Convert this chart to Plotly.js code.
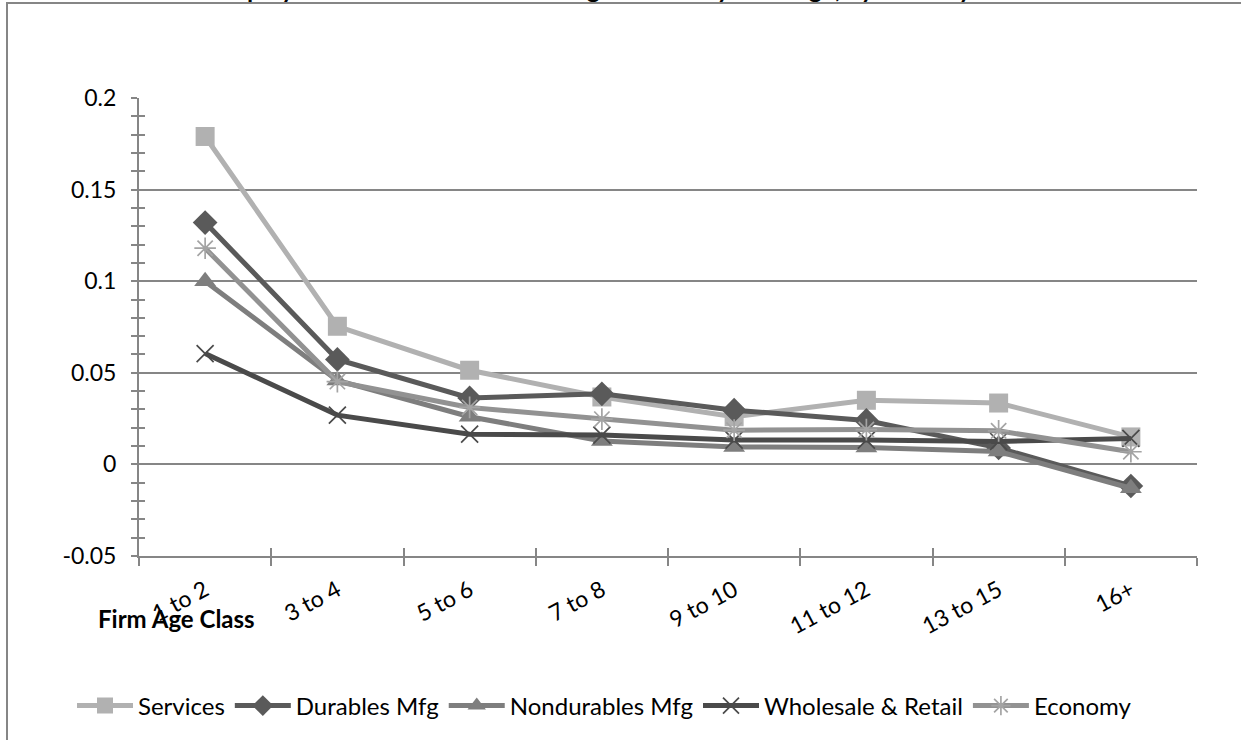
<!DOCTYPE html>
<html>
<head>
<meta charset="utf-8">
<script src="https://cdn.plot.ly/plotly-3.0.1.min.js"></script>
<style>
  html, body { margin: 0; padding: 0; background: #ffffff; }
  #chart { width: 1241px; height: 740px; }
</style>
</head>
<body>
<div id="chart"></div>
<script>
// ---- Data ----
const categories = ["1 to 2", "3 to 4", "5 to 6", "7 to 8", "9 to 10", "11 to 12", "13 to 15", "16+"];
const services     = [0.179, 0.0754, 0.0514, 0.0368, 0.026, 0.035, 0.0335, 0.015];
const durablesMfg  = [0.132, 0.0573, 0.0363, 0.0385, 0.0296, 0.024, 0.009, -0.0118];
const nondurables  = [0.100, 0.0458, 0.026, 0.0128, 0.0095, 0.0092, 0.007, -0.013];
const wholesale    = [0.0605, 0.0269, 0.0165, 0.016, 0.0133, 0.0133, 0.0125, 0.0142];
const economy      = [0.118, 0.0452, 0.0311, 0.0247, 0.0187, 0.019, 0.0183, 0.0069];
const seriesNames  = ["Services", "Durables Mfg", "Nondurables Mfg", "Wholesale & Retail", "Economy"];
const yTickVals    = [-0.05, 0, 0.05, 0.1, 0.15, 0.2];
const yTickText    = ["-0.05", "0", "0.05", "0.1", "0.15", "0.2"];
const xAxisTitle   = "Firm Age Class";
const chartTitle   = "Employment Growth Rates: Average Annual by Firm Age, by Industry";

const FONT = "Lato, 'Open Sans', sans-serif";
const AX = "#868686";

const styles = [
  {line: "#b1b1b1", marker: {symbol: "square", size: 19, color: "#b1b1b1"}},
  {line: "#5a5a5a", marker: {symbol: "diamond", size: 19, color: "#5a5a5a"}},
  {line: "#7e7e7e", marker: {symbol: "triangle-up", size: 19, color: "#7e7e7e"}},
  {line: "#4a4a4a", marker: {symbol: "x-thin-open", size: 17, color: "#4a4a4a", line: {width: 1.7, color: "#4a4a4a"}}},
  {line: "#929292", marker: {symbol: "asterisk-open", size: 18, color: "#a4a4a4", line: {width: 1.7, color: "#a4a4a4"}}}
];
const values = [services, durablesMfg, nondurables, wholesale, economy];

const traces = values.map((v, i) => ({
  type: "scatter",
  mode: "lines+markers",
  name: seriesNames[i],
  x: categories,
  y: v,
  line: {color: styles[i].line, width: 5},
  marker: styles[i].marker,
  hoverinfo: "x+y+name"
}));

// pixel helpers: plot area spans x 139..1197, y 98..556
const L = 139, R = 1197, T = 98, B = 556;
const px = x => (x - L) / (R - L);
const py = y => (B - y) / (B - T);

const layout = {
  width: 1241,
  height: 740,
  margin: {l: L, r: 1241 - R, t: T, b: 740 - B, pad: 0, autoexpand: false},
  paper_bgcolor: "#ffffff",
  plot_bgcolor: "#ffffff",
  font: {family: FONT, size: 23, color: "#000000"},
  showlegend: true,
  legend: {
    orientation: "h",
    x: px(72), xanchor: "left",
    y: py(706), yanchor: "middle",
    font: {family: FONT, size: 24, color: "#000000"},
    itemwidth: 56,
    traceorder: "normal"
  },
  xaxis: {
    type: "category",
    range: [-0.5, 7.5],
    showline: true, linecolor: AX, linewidth: 2,
    showgrid: false, zeroline: false,
    ticks: "outside", ticklen: 8, tickwidth: 1.5, tickcolor: AX,
    tickson: "boundaries",
    tickangle: -28,
    ticklabelstandoff: 10,
    tickfont: {family: FONT, size: 23, color: "#000000"},
    fixedrange: true
  },
  xaxis2: {
    overlaying: "x",
    type: "linear",
    range: [-0.5, 7.5],
    tickmode: "array",
    tickvals: [-0.5, 0.5, 1.5, 2.5, 3.5, 4.5, 5.5, 6.5, 7.5],
    ticks: "inside", ticklen: 8, tickwidth: 1.5, tickcolor: AX,
    showticklabels: false, showgrid: false, zeroline: false, showline: false,
    anchor: "y"
  },
  yaxis: {
    range: [-0.05, 0.2],
    tickmode: "array",
    tickvals: yTickVals,
    ticktext: yTickText,
    showline: true, linecolor: AX, linewidth: 2,
    showgrid: true, gridcolor: AX, gridwidth: 1.5,
    zeroline: false,
    ticks: "outside", ticklen: 6, tickwidth: 1.5, tickcolor: AX,
    minor: {dtick: 0.01, tick0: 0, ticks: "outside", ticklen: 6, tickwidth: 1.5, tickcolor: AX, showgrid: false},
    ticklabelstandoff: 10,
    tickfont: {family: FONT, size: 23, color: "#000000"},
    fixedrange: true
  },
  yaxis2: {
    overlaying: "y",
    range: [-0.05, 0.2],
    tickmode: "array",
    tickvals: yTickVals,
    ticks: "inside", ticklen: 6, tickwidth: 1.5, tickcolor: AX,
    minor: {dtick: 0.01, tick0: 0, ticks: "inside", ticklen: 6, tickwidth: 1.5, tickcolor: AX, showgrid: false},
    showticklabels: false, showgrid: false, zeroline: false, showline: false,
    anchor: "x"
  },
  shapes: [
    {type: "rect", xref: "paper", yref: "paper",
     x0: px(7), x1: px(1252), y0: py(752), y1: py(3),
     line: {color: AX, width: 2}, fillcolor: "rgba(0,0,0,0)", layer: "below"}
  ],
  annotations: [
    {text: "<b>" + xAxisTitle + "</b>", xref: "paper", yref: "paper",
     x: px(96), xanchor: "left", y: py(618), yanchor: "middle",
     showarrow: false, font: {family: FONT, size: 24, color: "#000000"}},
    {text: "<b>" + chartTitle + "</b>", xref: "paper", yref: "paper",
     x: px(592), xanchor: "center", y: py(5), yanchor: "bottom",
     showarrow: false, font: {family: FONT, size: 25, color: "#000000"}}
  ]
};

// invisible helper trace so the overlay axes are drawn
traces.push({type: "scatter", x: [0], y: [0], xaxis: "x2", yaxis: "y2", mode: "markers",
  marker: {opacity: 0}, showlegend: false, hoverinfo: "skip"});

Plotly.newPlot("chart", traces, layout, {displayModeBar: false, staticPlot: false});
</script>
</body>
</html>
